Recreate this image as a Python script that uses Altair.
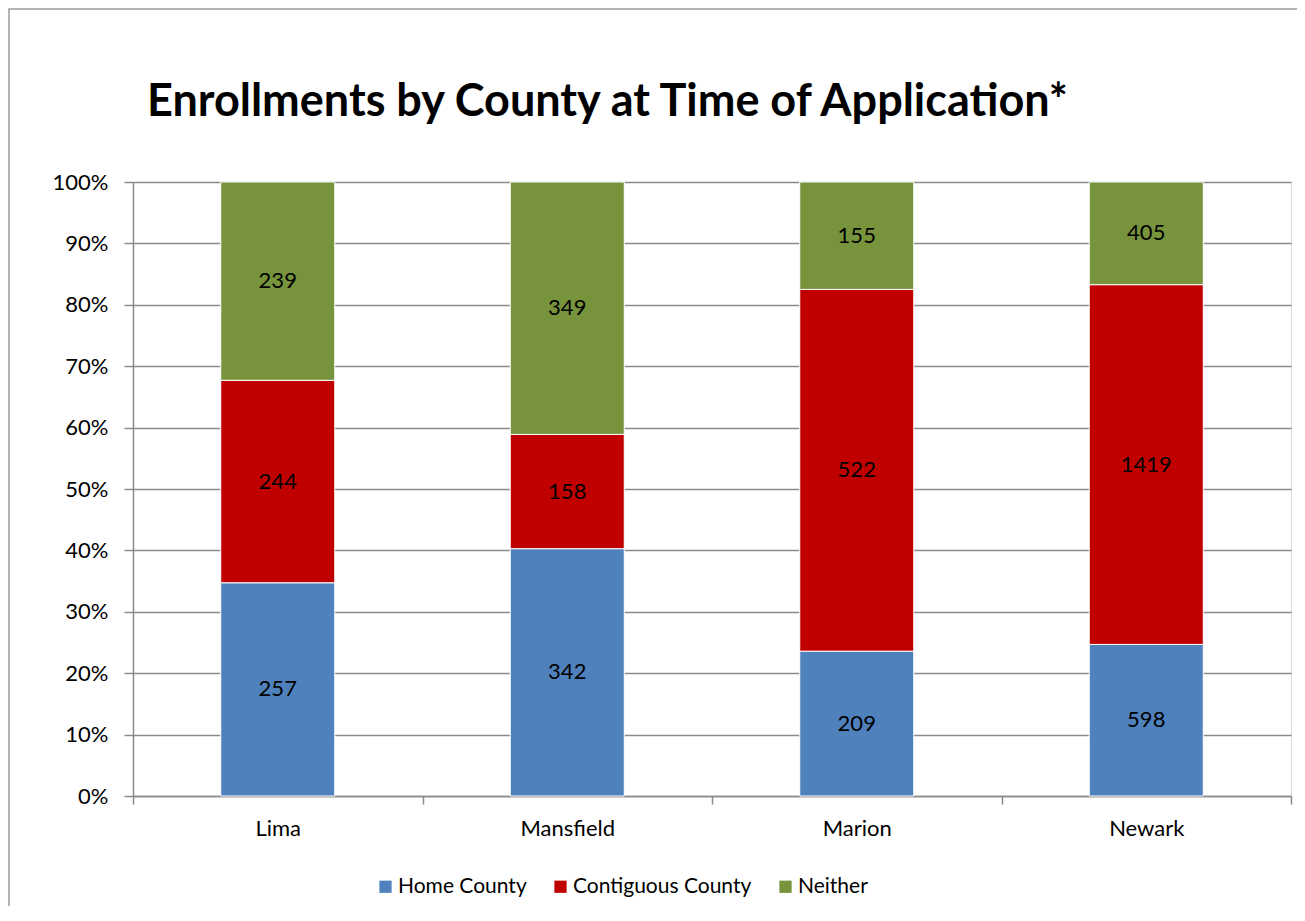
import altair as alt
import pandas as pd

campuses = ["Lima", "Mansfield", "Marion", "Newark"]
categories = ["Home County", "Contiguous County", "Neither"]
home = [257, 342, 209, 598]
contiguous = [244, 158, 522, 1419]
neither = [239, 349, 155, 405]
colors = ["#4F81BD", "#C00000", "#77933C"]
y_ticks = [0, 0.1, 0.2, 0.3, 0.4, 0.5, 0.6, 0.7, 0.8, 0.9, 1.0]

rows = []
for i, c in enumerate(campuses):
    for k, (cat, vals) in enumerate(zip(categories, [home, contiguous, neither])):
        rows.append({"campus": c, "category": cat, "count": vals[i], "order": k})
df = pd.DataFrame(rows)

FONT = "Lato"
GRAY = "#8A8A8A"

x_enc = alt.X(
    "campus:N", sort=campuses, title=None,
    scale=alt.Scale(paddingInner=0, paddingOuter=0),
    axis=alt.Axis(labelAngle=0, tickBand="extent", grid=False, domainColor=GRAY,
                  domainWidth=1.5, tickColor=GRAY, tickWidth=1.5, tickSize=8,
                  labelPadding=14, labelFontSize=22, labelFont=FONT, labelColor="black"),
)
y_scale = alt.Scale(domain=[0, 1], nice=False)

bars = alt.Chart(df).mark_bar(size=114, stroke="white", strokeWidth=1).encode(
    x=x_enc,
    y=alt.Y("count:Q", stack="normalize", scale=y_scale, title=None,
            axis=alt.Axis(format=".0%", values=y_ticks, grid=True, gridColor=GRAY,
                          gridWidth=1.5, domainColor=GRAY, domainWidth=1.5,
                          tickColor=GRAY, tickWidth=1.5, tickSize=9, labelPadding=16,
                          labelFontSize=22, labelFont=FONT, labelColor="black")),
    color=alt.Color("category:N", scale=alt.Scale(domain=categories, range=colors),
                    legend=alt.Legend(title=None, orient="none", direction="horizontal",
                                      legendX=242, legendY=694, symbolType="square",
                                      symbolSize=150, symbolStrokeWidth=0,
                                      labelFontSize=21, labelFont=FONT, labelColor="black",
                                      labelLimit=400, columnPadding=23, labelOffset=2)),
    order=alt.Order("order:Q"),
)

labels = alt.Chart(df).transform_joinaggregate(
    total="sum(count)", groupby=["campus"]
).transform_window(
    cum="sum(count)", sort=[alt.SortField("order")], groupby=["campus"], frame=[None, 0]
).transform_calculate(
    mid="(datum.cum - datum.count / 2) / datum.total"
).mark_text(fontSize=22, font=FONT, color="black", baseline="middle").encode(
    x=alt.X("campus:N", sort=campuses),
    y=alt.Y("mid:Q", scale=y_scale),
    text="count:Q",
)

frame = alt.Chart(pd.DataFrame({"f": [0]})).mark_rect(
    fill=None, stroke="#9A9A9A", strokeWidth=1.5, clip=False
).encode(x=alt.value(-124), x2=alt.value(1200), y=alt.value(-173), y2=alt.value(800))

chart = alt.layer(frame, bars, labels).properties(
    width=1158, height=614,
    title=alt.Title("Enrollments by County at Time of Application*", anchor="start",
                    frame="group", dx=14, offset=0, dy=153, baseline="alphabetic",
                    fontSize=45, font=FONT, fontWeight="bold", color="black"),
    padding={"left": 125, "top": 174, "right": 6, "bottom": 110},
    autosize=alt.AutoSizeParams(type="none"),
).configure_view(stroke=None).configure(background="white")

chart.save("out.html", embed_options={"renderer": "svg", "actions": False})
